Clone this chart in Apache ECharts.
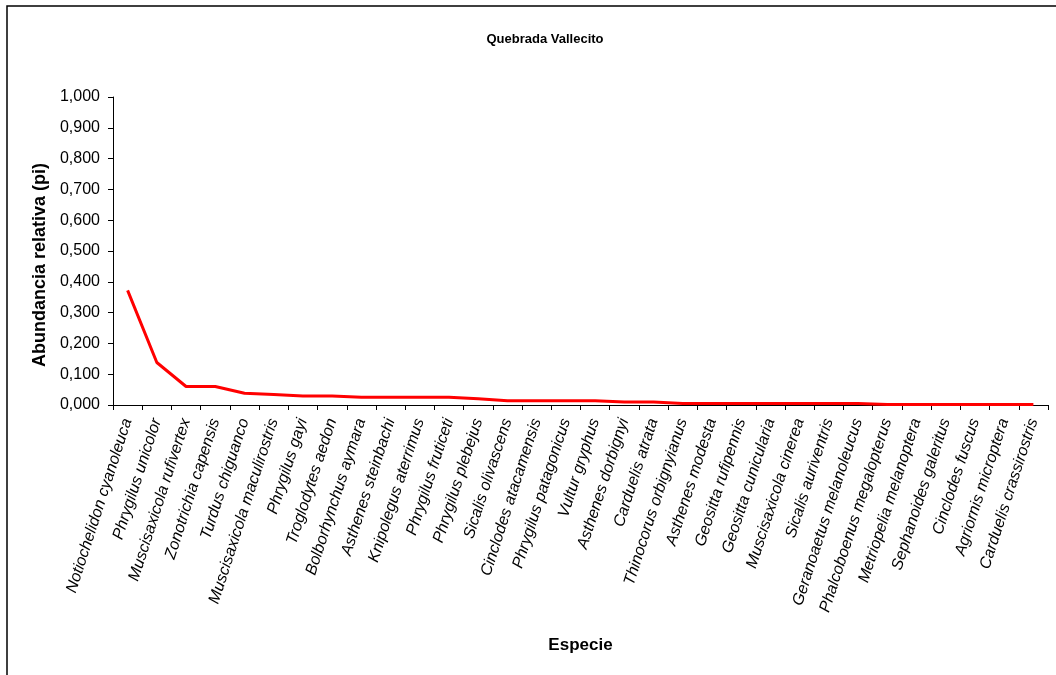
<!DOCTYPE html>
<html>
<head>
<meta charset="utf-8">
<script src="https://cdn.jsdelivr.net/npm/echarts@6/dist/echarts.min.js"></script>
<style>
  html, body { margin: 0; padding: 0; background: #fff; }
  #chart { width: 1056px; height: 675px; }
</style>
</head>
<body>
<div id="chart"></div>
<script>
  var especies = [
    'Notiochelidon cyanoleuca', 'Phrygilus unicolor', 'Muscisaxicola rufivertex',
    'Zonotrichia capensis', 'Turdus chiguanco', 'Muscisaxicola maculirostris',
    'Phrygilus gayi', 'Troglodytes aedon', 'Bolborhynchus aymara',
    'Asthenes steinbachi', 'Knipolegus aterrimus', 'Phrygilus fruticeti',
    'Phrygilus plebejus', 'Sicalis olivascens', 'Cinclodes atacamensis',
    'Phrygilus patagonicus', 'Vultur gryphus', 'Asthenes dorbignyi',
    'Carduelis atrata', 'Thinocorus orbignyianus', 'Asthenes modesta',
    'Geositta rufipennis', 'Geositta cunicularia', 'Muscisaxicola cinerea',
    'Sicalis auriventris', 'Geranoaetus melanoleucus', 'Phalcoboenus megalopterus',
    'Metriopelia melanoptera', 'Sephanoides galeritus', 'Cinclodes fuscus',
    'Agriornis microptera', 'Carduelis crassirostris'
  ];
  var abundancia = [
    0.372, 0.138, 0.060, 0.060, 0.038, 0.034, 0.029, 0.029,
    0.025, 0.025, 0.025, 0.025, 0.020, 0.014, 0.014, 0.014,
    0.014, 0.010, 0.010, 0.005, 0.005, 0.005, 0.005, 0.005,
    0.005, 0.005, 0.0015, 0.0015, 0.0015, 0.0015, 0.0015, 0.0015
  ];

  var chart = echarts.init(document.getElementById('chart'));
  var font = 'Liberation Sans, Arial, sans-serif';
  var option = {
    animation: false,
    backgroundColor: '#fff',
    textStyle: { fontFamily: font },
    title: {
      text: 'Quebrada Vallecito',
      left: 540,
      top: 28,
      textAlign: 'center',
      textStyle: { fontSize: 13, fontWeight: 'bold', color: '#000', fontFamily: font }
    },
    graphic: [{
      type: 'rect',
      shape: { x: 7, y: 6, width: 1100, height: 700 },
      style: { fill: 'none', stroke: '#000', lineWidth: 1.5 },
      silent: true
    }],
    grid: { left: 113, right: 8, top: 97, bottom: 270 },
    xAxis: {
      type: 'category',
      data: especies,
      boundaryGap: true,
      name: 'Especie',
      nameLocation: 'middle',
      nameGap: 232,
      nameTextStyle: { fontSize: 17, fontWeight: 'bold', color: '#000', fontFamily: font },
      axisLine: { lineStyle: { color: '#000', width: 1 } },
      axisTick: { show: true, inside: false, length: 5, lineStyle: { color: '#000' } },
      axisLabel: { interval: 0, rotate: 72, fontSize: 16, color: '#000', margin: 14, fontStyle: 'italic', fontFamily: font },
      splitLine: { show: false }
    },
    yAxis: {
      type: 'value',
      min: 0,
      max: 1,
      interval: 0.1,
      name: 'Abundancia relativa (pi)',
      nameLocation: 'middle',
      nameGap: 63,
      nameRotate: 90,
      nameTextStyle: { fontSize: 18, fontWeight: 'bold', color: '#000', fontFamily: font, padding: [0, 28, 0, 0] },
      axisLine: { show: true, lineStyle: { color: '#000', width: 1 } },
      axisTick: { show: true, length: 5, lineStyle: { color: '#000' } },
      axisLabel: {
        fontSize: 16,
        color: '#000',
        margin: 13,
        fontFamily: font,
        formatter: function (v) { return v.toFixed(3).replace('.', ','); }
      },
      splitLine: { show: false }
    },
    series: [{
      type: 'line',
      data: abundancia,
      symbol: 'none',
      lineStyle: { color: '#ff0000', width: 3 },
      itemStyle: { color: '#ff0000' }
    }]
  };
  chart.setOption(option);
</script>
</body>
</html>
